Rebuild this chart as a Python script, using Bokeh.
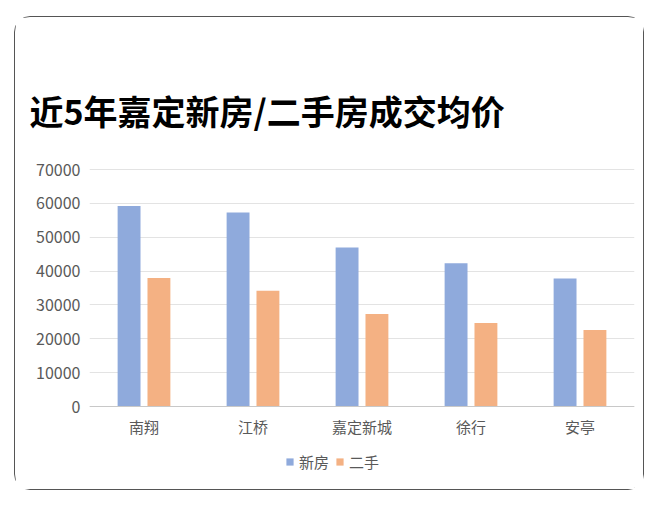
from bokeh.plotting import figure
from bokeh.models import (ColumnDataSource, FactorRange, Range1d, FixedTicker, Legend, LegendItem,
                          Title, NumeralTickFormatter)
from bokeh.transform import dodge
from bokeh.embed import file_html
from bokeh.resources import INLINE

categories = ["南翔", "江桥", "嘉定新城", "徐行", "安亭"]
new_house = [59200, 57300, 47000, 42300, 37800]
second_hand = [38000, 34200, 27300, 24700, 22600]
series_names = ["新房", "二手"]
y_ticks = [0, 10000, 20000, 30000, 40000, 50000, 60000, 70000]
title_text = "近5年嘉定新房/二手房成交均价"

FONT = "Noto Sans CJK SC"
src = ColumnDataSource(dict(cat=categories, new=new_house, old=second_hand))

# frame extends below zero so the legend can sit inside it
p = figure(width=630, height=474, x_range=FactorRange(*categories, range_padding=0),
           y_range=Range1d(-23900, 70300), x_axis_location="above",
           output_backend="svg", toolbar_location=None,
           min_border_left=74, min_border_right=11, min_border_top=151, min_border_bottom=4)
p.outline_line_color = None
p.background_fill_color = "white"
p.border_fill_color = "white"
p.title = None

r1 = p.vbar(x=dodge("cat", -0.137, range=p.x_range), top="new", width=0.21, source=src,
            fill_color="#8FAADC", line_color=None)
r2 = p.vbar(x=dodge("cat", 0.137, range=p.x_range), top="old", width=0.21, source=src,
            fill_color="#F4B183", line_color=None)

p.yaxis.ticker = FixedTicker(ticks=y_ticks)
p.yaxis.formatter = NumeralTickFormatter(format="0")
p.yaxis.axis_line_color = None
p.yaxis.major_tick_line_color = None
p.yaxis.minor_tick_line_color = None
p.yaxis.major_tick_out = 0
p.yaxis.major_label_text_font = FONT
p.yaxis.major_label_text_font_size = "16px"
p.yaxis.major_label_text_color = "#595959"
p.yaxis.major_label_standoff = 9

p.xaxis.fixed_location = 0
p.xaxis.axis_line_color = "#c8c8c8"
p.xaxis.major_tick_line_color = None
p.xaxis.minor_tick_line_color = None
p.xaxis.major_tick_out = 0
p.xaxis.major_tick_in = 0
p.xaxis.major_label_text_font = FONT
p.xaxis.major_label_text_font_size = "15px"
p.xaxis.major_label_text_color = "#595959"
p.xaxis.major_label_standoff = -30

p.xgrid.grid_line_color = None
p.ygrid.grid_line_color = "#e3e3e3"
p.ygrid.grid_line_width = 1

t = Title(text=title_text, text_font=FONT, text_font_size="34px", text_font_style="bold",
          text_color="#000000", align="left", offset=-60, standoff=68)
p.add_layout(t, "above")

legend = Legend(items=[LegendItem(label=series_names[0], renderers=[r1]),
                       LegendItem(label=series_names[1], renderers=[r2])],
                orientation="horizontal", location=(196, 15),
                label_text_font=FONT, label_text_font_size="15px", label_text_color="#595959",
                glyph_width=9, glyph_height=9, spacing=6, label_standoff=5,
                border_line_color=None, background_fill_alpha=0, padding=4, margin=0)
p.add_layout(legend, "center")

p.styles = {"border": "1.2px solid #555555", "border-radius": "16px",
            "margin-left": "14px", "margin-top": "16px"}

open("out.html", "w").write(file_html(p, INLINE))
